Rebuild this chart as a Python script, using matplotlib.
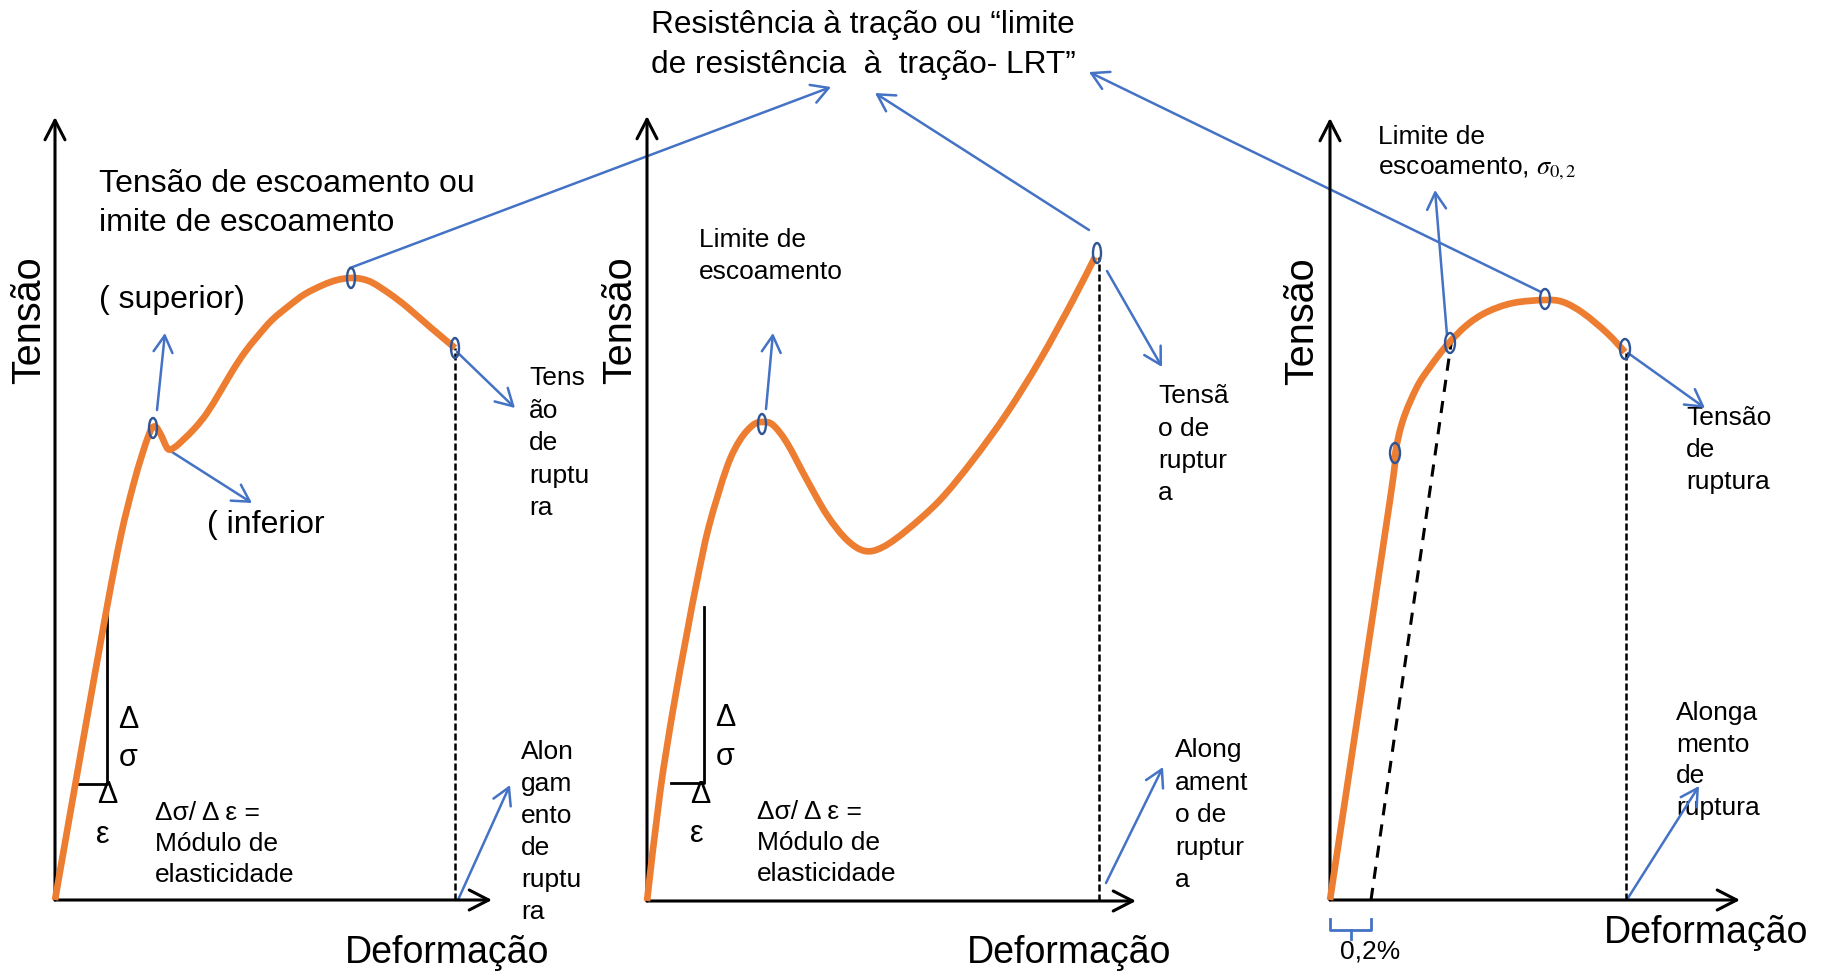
import matplotlib
matplotlib.use("Agg")
import matplotlib.pyplot as plt
from matplotlib.patches import Ellipse, PathPatch
from matplotlib.path import Path

plt.rcParams['font.family'] = ['Liberation Sans', 'DejaVu Sans']
plt.rcParams['mathtext.fontset'] = 'stix'

W, H = 1822, 973
ORANGE = '#ED7D31'
BLUE = '#4472C4'
DARKBLUE = '#2F5597'

# stress-strain curves, arbitrary units measured from each panel's origin
p1_strain = [0, 26, 52, 66, 78, 87, 93, 97, 101, 106, 113, 120, 128, 140, 152, 165, 178,
             190, 202, 217, 235, 250, 268, 282, 295, 307, 318, 335, 352, 375, 400]
p1_stress = [0, 148, 293, 365, 414, 445, 463, 472, 473, 465, 451, 453, 460, 472, 487, 508, 530,
             548, 563, 580, 595, 606, 615, 620, 622, 621, 617, 606, 593, 573, 552]
p1_marks_x = [98, 296, 400]
p1_marks_y = [472, 622, 552]

p2_strain = [0, 13, 26, 40, 50, 62, 80, 93, 106, 116, 126, 140, 160, 180, 200, 218, 236,
             260, 293, 326, 360, 393, 426, 448]
p2_stress = [0, 108, 191, 268, 320, 375, 434, 461, 476, 479, 476, 458, 421, 386, 361, 350, 354,
             371, 401, 441, 488, 541, 601, 644]
p2_marks_x = [115, 450]
p2_marks_y = [477, 648]

p3_strain = [0, 60, 65, 73, 87, 100, 117, 137, 157, 183, 215, 233, 253, 277, 295]
p3_stress = [0, 400, 445, 480, 513, 533, 555, 575, 588, 597, 600, 598, 587, 567, 548]
p3_marks_x = [65, 120, 215, 295]
p3_marks_y = [447, 557, 601, 551]
p3_offset = 41  # 0,2 % offset line origin

fig = plt.figure(figsize=(W / 100, H / 100), dpi=100)
canvas = fig.add_axes([0, 0, 1, 1])
canvas.set_xlim(0, W)
canvas.set_ylim(H, 0)
canvas.set_axis_off()

axis_arrow = dict(arrowstyle='->,head_length=0.7,head_width=0.36', color='black', lw=2.2,
                  shrinkA=0, shrinkB=0, mutation_scale=20)
blue_arrow = dict(arrowstyle='->,head_length=0.6,head_width=0.34', color=BLUE, lw=1.8,
                  shrinkA=0, shrinkB=0, mutation_scale=20)


def panel(x0, y0, w, h):
    ax = fig.add_axes([x0 / W, (H - y0) / H, w / W, h / H])
    ax.set_xlim(0, w)
    ax.set_ylim(0, h)
    ax.set_facecolor('none')
    ax.set_axis_off()
    ax.annotate('', xy=(w, 0), xytext=(0, 0), arrowprops=axis_arrow, annotation_clip=False)
    ax.annotate('', xy=(0, h), xytext=(0, 0), arrowprops=axis_arrow, annotation_clip=False)
    return ax


def smooth_path(xs, ys):
    # cubic bezier through the read points (Catmull-Rom style handles)
    pts = list(zip(xs, ys))
    verts = [pts[0]]
    codes = [Path.MOVETO]
    n = len(pts)
    for i in range(n - 1):
        p0 = pts[max(i - 1, 0)]
        p1 = pts[i]
        p2 = pts[i + 1]
        p3 = pts[min(i + 2, n - 1)]
        c1 = (p1[0] + (p2[0] - p0[0]) / 6, p1[1] + (p2[1] - p0[1]) / 6)
        c2 = (p2[0] - (p3[0] - p1[0]) / 6, p2[1] - (p3[1] - p1[1]) / 6)
        verts += [c1, c2, p2]
        codes += [Path.CURVE4] * 3
    return Path(verts, codes)


def curve(ax, xs, ys, mx, my, ew=8):
    ax.add_patch(PathPatch(smooth_path(xs, ys), fill=False, ec=ORANGE, lw=4.8,
                           capstyle='butt', joinstyle='round', clip_on=False, zorder=3))
    for x, y in zip(mx, my):
        ax.add_patch(Ellipse((x, y), ew, 20, fill=False, ec=DARKBLUE, lw=1.7,
                             zorder=4, clip_on=False))


def arrow(start, tip):
    canvas.annotate('', xy=tip, xytext=start, arrowprops=blue_arrow, annotation_clip=False)


def lines(x, y, rows, dy, size=19):
    for i, r in enumerate(rows):
        canvas.text(x, y + i * dy, r, fontsize=size, ha='left', va='center')


# ---- panel 1 ----
ax1 = panel(55, 900, 437, 783)
curve(ax1, p1_strain, p1_stress, p1_marks_x, p1_marks_y)
ax1.plot([p1_strain[-1], p1_strain[-1]], [0, p1_stress[-1]], color='black', lw=1.8,
         ls=(0, (2.8, 1.2)), clip_on=False)
ax1.plot([23, 52, 52], [116, 116, 292], color='black', lw=2, clip_on=False)

# ---- panel 2 ----
ax2 = panel(647, 901, 489, 785)
curve(ax2, p2_strain, p2_stress, p2_marks_x, p2_marks_y)
ax2.plot([p2_marks_x[-1] + 2, p2_marks_x[-1] + 2], [0, p2_marks_y[-1] - 4], color='black',
         lw=1.8, ls=(0, (2.8, 1.2)), clip_on=False)
ax2.plot([24, 57, 57], [118, 118, 294], color='black', lw=2, clip_on=False)

# ---- panel 3 ----
ax3 = panel(1330, 900, 410, 782)
curve(ax3, p3_strain, p3_stress, p3_marks_x, p3_marks_y, ew=10)
ax3.plot([p3_offset, p3_marks_x[1] + 2], [0, p3_marks_y[1] + 6], color='black', lw=2.2,
         ls=(0, (4, 3)), clip_on=False)
ax3.plot([p3_strain[-1] + 1, p3_strain[-1] + 1], [0, p3_stress[-1]], color='black', lw=1.8,
         ls=(0, (2.8, 1.2)), clip_on=False)

# brace for 0,2 %
canvas.plot([1330, 1330, 1371, 1371], [919, 930, 930, 919], color=BLUE, lw=2)
canvas.plot([1350.5, 1350.5], [930, 939], color=BLUE, lw=2)

# ---- title ----
lines(651, 25, ['Resistência à tração ou “limite', 'de resistência  à  tração- LRT”'], 40, 22.8)

# ---- panel 1 text ----
lines(99, 184, ['Tensão de escoamento ou', 'imite de escoamento'], 39, 23)
lines(99, 300, ['( superior)'], 0, 23)
lines(207, 525, ['( inferior'], 0, 23)
lines(529, 378, ['Tens', 'ão', 'de', 'ruptu', 'ra'], 32.5)
lines(521, 752, ['Alon', 'gam', 'ento', 'de', 'ruptu', 'ra'], 32)
for x, y, s in [(128, 720, 'Δ'), (128, 758, 'σ'), (107, 795, 'Δ'), (103, 835, 'ε'),
                (725, 718, 'Δ'), (725, 757, 'σ'), (700, 795, 'Δ'), (697, 834, 'ε')]:
    canvas.text(x, y, s, fontsize=22, ha='center', va='center')
lines(155, 813, ['Δσ/ Δ ε =', 'Módulo de', 'elasticidade'], 31)

# ---- panel 2 text ----
lines(699, 240, ['Limite de', 'escoamento'], 32)
lines(757, 812, ['Δσ/ Δ ε =', 'Módulo de', 'elasticidade'], 31)
lines(1158, 396, ['Tensã', 'o de', 'ruptur', 'a'], 32.5)
lines(1175, 750, ['Along', 'ament', 'o de', 'ruptur', 'a'], 32.5)

# ---- panel 3 text ----
lines(1378, 137, ['Limite de', r'escoamento, $\sigma_{0,2}$'], 31.5)
lines(1686, 418, ['Tensão', 'de', 'ruptura'], 32)
lines(1676, 713, ['Alonga', 'mento', 'de', 'ruptura'], 31.7)
lines(1340, 952, ['0,2%'], 0)

for x, y in [(29, 320), (620, 320), (1302, 321)]:
    canvas.text(x, y, 'Tensão', fontsize=28.5, rotation=90, ha='center', va='center')
for x, y in [(447, 953), (1069, 953), (1706, 933)]:
    canvas.text(x, y, 'Deformação', fontsize=27, ha='center', va='center')

# ---- annotation arrows ----
arrow((157, 410), (165, 333))
arrow((172, 452), (252, 503))
arrow((350, 268), (831, 87))
arrow((457, 352), (515, 408))
arrow((458, 900), (510, 785))

arrow((766, 409), (773, 333))
arrow((1089, 230), (875, 93))
arrow((1107, 271), (1162, 367))
arrow((1106, 883), (1163, 767))

arrow((1447, 335), (1435, 190))
arrow((1541, 292), (1089, 72))
arrow((1628, 353), (1705, 408))
arrow((1628, 898), (1699, 786))

fig.savefig('out.png', dpi=100, facecolor='white')
